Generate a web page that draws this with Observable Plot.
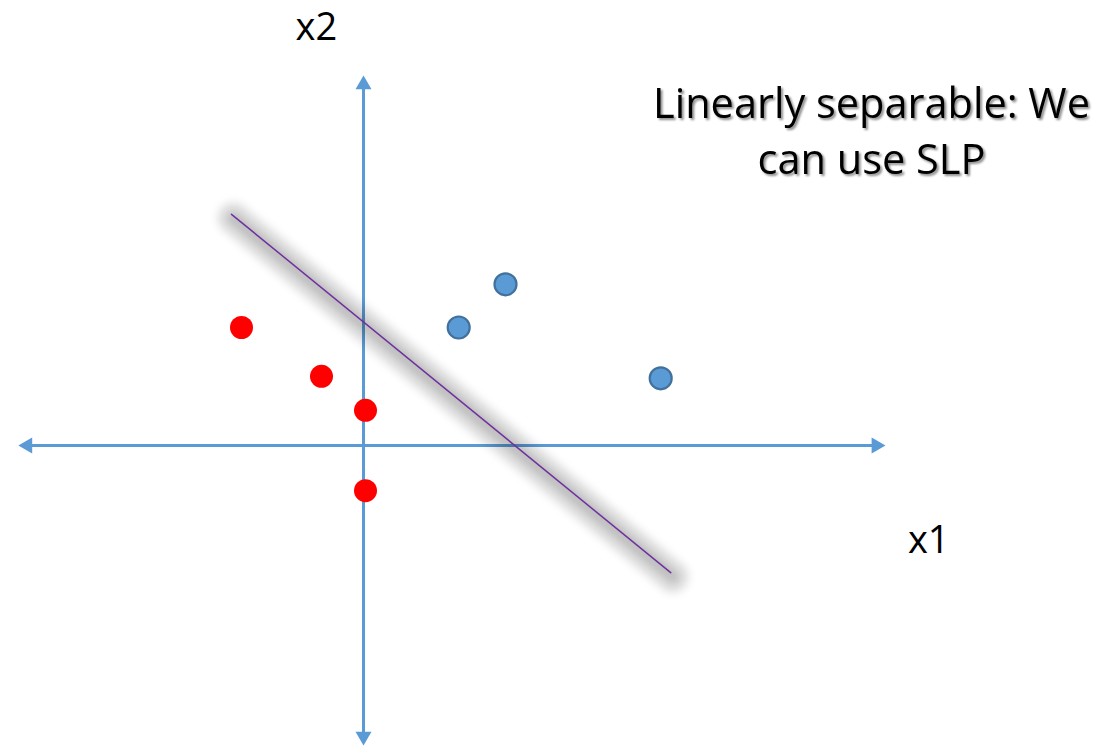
<!DOCTYPE html>
<html>
<head>
<meta charset="utf-8">
<script src="https://cdn.jsdelivr.net/npm/d3@7"></script>
<script src="https://cdn.jsdelivr.net/npm/@observablehq/plot@0.6"></script>
<style>
  html, body { margin: 0; padding: 0; background: #ffffff; }
  svg { display: block; }
</style>
</head>
<body>
<script>
// Two classes in the (x1, x2) plane and a separating line.
const redX1 = [-3.05, -1.05, 0.05, 0.05];
const redX2 = [2.95, 1.73, 0.88, -1.13];
const blueX1 = [2.38, 3.55, 7.43];
const blueX2 = [2.95, 4.03, 1.68];

// Decision boundary endpoints
const boundaryX1 = [-3.3, 7.68];
const boundaryX2 = [5.78, -3.18];

// Extent of the drawn coordinate axes
const axisX1Extent = [-8.63, 13.05];
const axisX2Extent = [-7.5, 9.25];

const axisLabels = ["x1", "x2"];
const captionLines = ["Linearly separable: We", "can use SLP"];

const red = redX1.map((x, i) => ({x1: x, x2: redX2[i]}));
const blue = blueX1.map((x, i) => ({x1: x, x2: blueX2[i]}));
const boundary = boundaryX1.map((x, i) => ({x1: x, x2: boundaryX2[i]}));

const W = 1109, H = 746;
const xDomain = [-9.075, 18.65];
const yDomain = [-7.525, 11.125];
const unit = W / (xDomain[1] - xDomain[0]); // px per data unit

const axisColor = "#5b9bd5";
const headSide = 16;
const headR = Math.sqrt((Math.sqrt(3) / 4) * headSide * headSide / Math.PI);
const headOff = (headSide * Math.sqrt(3) / 2) * 2 / 3; // tip to centroid, px
const inset = 8 / unit;

const font = "'Open Sans', sans-serif";

// Soft shadow under the boundary: stacked translucent strokes of decreasing width
const shadowWidths = [38, 31, 25, 19, 13, 8, 4];
const shadowMarks = shadowWidths.map(w =>
  Plot.line(boundary, {x: "x1", y: "x2", stroke: "#000000", strokeOpacity: 0.045, strokeWidth: w, strokeLinecap: "round", dx: 2, dy: 4})
);

const chart = Plot.plot({
  width: W,
  height: H,
  margin: 0,
  x: {domain: xDomain, axis: null},
  y: {domain: yDomain, axis: null},
  style: {fontFamily: font, background: "#ffffff"},
  marks: [
    // axes
    Plot.ruleY([0], {x1: axisX1Extent[0] + inset, x2: axisX1Extent[1] - inset, stroke: axisColor, strokeWidth: 3}),
    Plot.ruleX([0], {y1: axisX2Extent[0] + inset, y2: axisX2Extent[1] - inset, stroke: axisColor, strokeWidth: 3}),
    Plot.dot([{x1: axisX1Extent[1], x2: 0}], {x: "x1", y: "x2", symbol: "triangle", rotate: 90, r: headR, fill: axisColor, stroke: "none", dx: -headOff}),
    Plot.dot([{x1: axisX1Extent[0], x2: 0}], {x: "x1", y: "x2", symbol: "triangle", rotate: -90, r: headR, fill: axisColor, stroke: "none", dx: headOff}),
    Plot.dot([{x1: 0, x2: axisX2Extent[1]}], {x: "x1", y: "x2", symbol: "triangle", rotate: 0, r: headR, fill: axisColor, stroke: "none", dy: headOff}),
    Plot.dot([{x1: 0, x2: axisX2Extent[0]}], {x: "x1", y: "x2", symbol: "triangle", rotate: 180, r: headR, fill: axisColor, stroke: "none", dy: -headOff}),
    // boundary shadow + boundary
    ...shadowMarks,
    Plot.line(boundary, {x: "x1", y: "x2", stroke: "#7030a0", strokeWidth: 1.5}),
    // classes
    Plot.dot(red, {x: "x1", y: "x2", r: 11.5, fill: "#ff0000", stroke: "none"}),
    Plot.dot(blue, {x: "x1", y: "x2", r: 11, fill: "#5b9bd5", stroke: "#41719c", strokeWidth: 2.2}),
    // axis labels
    Plot.text([axisLabels[0]], {x: 14.13, y: -2.38, text: d => d, fontSize: 38, fill: "#000000"}),
    Plot.text([axisLabels[1]], {x: -1.18, y: 10.43, text: d => d, fontSize: 38, fill: "#000000"}),
    // caption
    Plot.text([captionLines.join("\n")], {x: 12.7, y: 7.93, text: d => d, fontSize: 41.5, lineHeight: 1.33, fill: "#000000"})
  ]
});

document.body.appendChild(chart);

// SVG filters: smoothing for the boundary shadow and a drop shadow behind the caption
const svg = d3.select(chart);
const defs = svg.insert("defs", ":first-child");
defs.append("filter")
    .attr("id", "boundary-blur")
    .attr("filterUnits", "userSpaceOnUse")
    .attr("x", 0).attr("y", 0).attr("width", W).attr("height", H)
  .append("feGaussianBlur")
    .attr("in", "SourceGraphic")
    .attr("stdDeviation", 3);
const ds = defs.append("filter")
    .attr("id", "caption-shadow")
    .attr("filterUnits", "userSpaceOnUse")
    .attr("x", 0).attr("y", 0).attr("width", W).attr("height", H);
ds.append("feDropShadow")
    .attr("dx", 2).attr("dy", 2).attr("stdDeviation", 1.2)
    .attr("flood-color", "#000000").attr("flood-opacity", 0.45);

const lineGroups = svg.selectAll("g[aria-label='line']").nodes();
lineGroups.slice(0, shadowWidths.length).forEach(g => d3.select(g).attr("filter", "url(#boundary-blur)"));
const textGroups = svg.selectAll("g[aria-label='text']").nodes();
if (textGroups.length) d3.select(textGroups[textGroups.length - 1]).attr("filter", "url(#caption-shadow)");
</script>
</body>
</html>
